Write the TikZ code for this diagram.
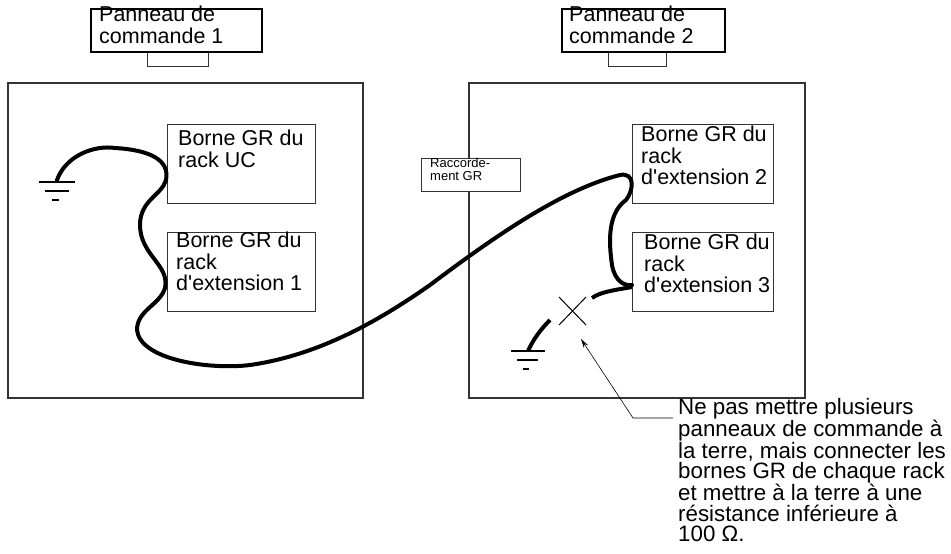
\documentclass[tikz,border=0pt]{standalone}
\usepackage{fontspec}
\setmainfont{Liberation Sans}
\usetikzlibrary{arrows.meta}
\newcommand{\apo}{\textquotesingle}
\begin{document}
\begin{tikzpicture}[x=1pt,y=-1pt,
  panel/.style={draw=black!80,line width=1.1pt},
  box/.style={draw=black!80,line width=1pt},
  lbl/.style={draw,line width=1.6pt},
  txt/.style={font=\fontsize{21.5}{21.5}\selectfont,align=left,anchor=north west,inner sep=0},
  cable/.style={line width=4pt,line cap=round},
  gnd/.style={line width=1.5pt}]
\useasboundingbox (0,0) rectangle (951,554);
% panels
\draw[panel] (8,83) rectangle (363,398);
\draw[panel] (469,83) rectangle (805,398);
% panel labels
\draw[box] (147,52) rectangle (208,66);
\draw[box] (608,52) rectangle (666,66);
\draw[lbl] (91,9) rectangle (262,52);
\draw[lbl] (562,9) rectangle (725,52);
\node[txt] (p1) at (99,6) {Panneau de\\commande 1};
\node[txt] (p2) at (569,6) {Panneau de\\commande 2};
% rack boxes
\draw[box] (167,124) rectangle (315,203);
\draw[box] (167,232) rectangle (315,311);
\draw[box] (632,124) rectangle (773,203);
\draw[box] (632,232) rectangle (773,311);
\node[txt] (uc) at (178,130) {Borne GR du\\rack UC};
\node[txt] (e1) at (176,232) {Borne GR du\\rack\\d\apo extension 1};
\node[txt] (e2) at (641,126) {Borne GR du\\rack\\d\apo extension 2};
\node[txt] (e3) at (644,234) {Borne GR du\\rack\\d\apo extension 3};
% raccordement
\draw[box,fill=white] (421,158) rectangle (520,191);
\node[txt,font=\fontsize{13}{13}\selectfont] (rg) at (430,158) {Raccorde-\\ment GR};
% grounds
\draw[gnd] (39,182) -- (75,182) (45,191) -- (69,191) (52,200) -- (59,200);
\draw[gnd] (511,351) -- (545,351) (517,360) -- (538,360) (523,369) -- (529,369);
% cable
\draw[cable] (57,180) .. controls (66,155) and (95,145) .. (115,148)
  .. controls (150,150) and (170,160) .. (166,180)
  .. controls (162,195) and (140,200) .. (140,225)
  .. controls (140,255) and (170,265) .. (165,288)
  .. controls (160,305) and (137,310) .. (137,330)
  .. controls (140,360) and (210,370) .. (250,365)
  .. controls (320,355) and (380,320) .. (430,285)
  .. controls (490,240) and (560,190) .. (620,175)
  .. controls (635,172) and (634,190) .. (626,200)
  .. controls (605,215) and (610,250) .. (612,265)
  .. controls (615,282) and (625,286) .. (632,285);
\draw[cable,line cap=butt] (632,287) .. controls (615,290) and (600,292) .. (592,298);
\draw[cable,line cap=butt] (550,320) .. controls (540,330) and (533,340) .. (528,351);
% cross
\draw[line width=1pt] (559,297) -- (586,325) (586,297) -- (559,325);
% annotation
\coordinate (tip) at (581,339);
\draw[line width=0.6pt,-{Stealth[length=9pt,width=5pt]}] (673,418) -- (633,418) -- (tip);
\node[txt,font=\fontsize{22.3}{20.4}\selectfont] (note) at (678,398) {Ne pas mettre plusieurs\\panneaux de commande à\\la terre, mais connecter les\\bornes GR de chaque rack\\et mettre à la terre à une\\résistance inférieure à\\100 Ω.};
\end{tikzpicture}
\end{document}
